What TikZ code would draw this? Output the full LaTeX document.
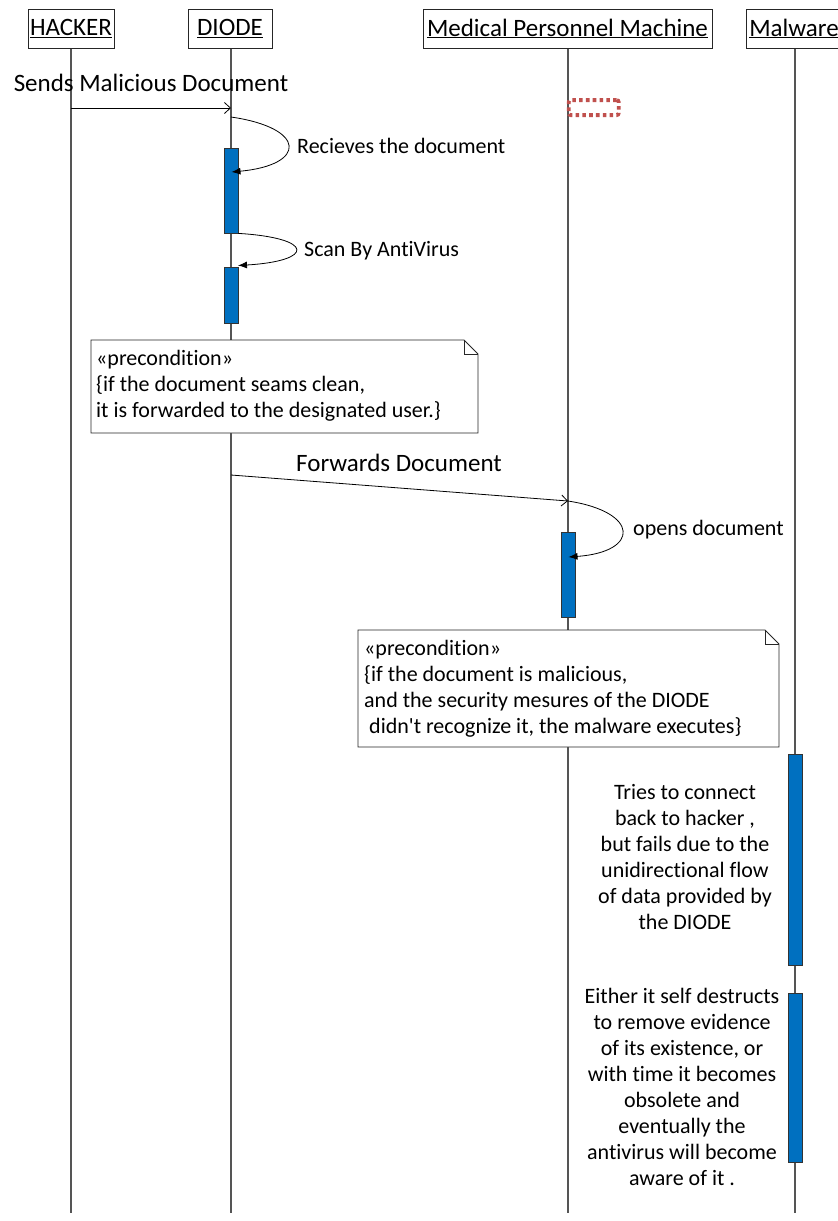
\documentclass[tikz,border=0pt]{standalone}
\usepackage{fontspec}
\setmainfont{Carlito}[Ligatures={NoCommon}]
\usetikzlibrary{arrows.meta}
\definecolor{actblue}{RGB}{0,112,192}
\definecolor{dotred}{RGB}{192,80,77}
\definecolor{lifegray}{RGB}{85,85,85}
\begin{document}
\begin{tikzpicture}[x=1pt,y=-1pt,
  big/.style={font=\fontsize{25}{30}\selectfont},
  small/.style={font=\fontsize{22}{26}\selectfont},
  head/.style={draw=black!85, line width=1pt, fill=white, inner sep=0pt, minimum height=39pt, big},
  life/.style={draw=lifegray, line width=1.2pt},
  bar/.style={draw=black!80, fill=actblue, line width=0.8pt, inner sep=0pt, minimum width=14pt},
  msg/.style={draw=black, line width=0.8pt, -{Straight Barb[length=6pt,width=11pt]}},
  selfmsg/.style={draw=black, line width=0.8pt, -{Latex[length=9pt,width=7pt]}},
  notebox/.style={draw=black!85, line width=0.9pt, fill=white},
  lbl/.style={inner sep=0pt}
]
\useasboundingbox (0,0) rectangle (838,1221);

% headers
\node[head, minimum width=86pt] (hacker) at (71,28.5) {\underline{HACKER}};
\node[head, minimum width=84pt] (diode) at (230,28.5) {\underline{DIODE}};
\node[head, minimum width=289pt] (medical) at (567.5,28.5) {\underline{Medical Personnel Machine}};
\node[head, minimum width=96pt] (malware) at (794,28.5) {\underline{Malware}};

% lifeline ends
\coordinate (hackerEnd) at (71,1213);
\coordinate (diodeEnd) at (231,1213);
\coordinate (medicalEnd) at (568,1213);
\coordinate (malwareEnd) at (795,1213);
\draw[life] (hacker.south -| hackerEnd) -- (hackerEnd);
\draw[life] (diode.south -| diodeEnd) -- (diodeEnd);
\draw[life] (medical.south -| medicalEnd) -- (medicalEnd);
\draw[life] (malware.south -| malwareEnd) -- (malwareEnd);

% red dotted box
\node[draw=dotred, line width=3.8pt, dash pattern=on 3.6pt off 3.2pt, rounded corners=2pt,
  minimum width=50pt, minimum height=15pt, inner sep=0pt] (redbox) at (593.7,107.6) {};

% message 1
\coordinate (m1s) at (71,108);
\coordinate (m1e) at (231,108);
\draw[msg] (m1s) -- (m1e);
\node[lbl, big] (l1) at (151,83) {Sends Malicious Document};

% activation bars on DIODE
\node[bar, minimum height=85pt] (b1) at (231,190.5) {};
\node[bar, minimum height=56pt] (b2) at (231,295) {};

% self message: receives
\coordinate (s1a) at (231,117);
\coordinate (s1b) at (231.5,172);
\draw[selfmsg] (s1a) .. controls (307,128) and (307,165) .. (s1b);
\node[lbl, small, anchor=west] (l2) at (297,146) {Recieves the document};

% self message: scan
\coordinate (s2a) at (b1.south east);
\coordinate (s2b) at (238,265.5);
\draw[selfmsg] (s2a) .. controls (315,238) and (315,261) .. (s2b);
\node[lbl, small, anchor=west] (l3) at (304,251) {Scan By AntiVirus};

% note 1
\draw[notebox] (91,340) -- (464,340) -- (478,354) -- (478,433) -- (91,433) -- cycle;
\draw[line width=0.9pt, draw=black!85] (464,340) -- (464,354) -- (478,354);
\node[lbl, small, anchor=west, align=left] (n1) at (96,386)
  {«precondition»\\{\{}if the document seams clean,\\it is forwarded to the designated user.\}};

% message 2
\coordinate (m2s) at (231,475);
\coordinate (m2e) at (568,501);
\draw[msg] (m2s) -- (m2e);
\node[lbl, big] (l4) at (399,463) {Forwards Document};

% activation bar on Medical
\node[bar, minimum height=85pt] (b3) at (568,574.5) {};

% self message: opens
\coordinate (s3a) at (568,501);
\coordinate (s3b) at (568.5,557);
\draw[selfmsg] (s3a) .. controls (640,512) and (640,552) .. (s3b);
\node[lbl, small, anchor=west] (l5) at (633,530) {opens document};

% note 2
\draw[notebox] (358,630) -- (765,630) -- (779,644) -- (779,747) -- (358,747) -- cycle;
\draw[line width=0.9pt, draw=black!85] (765,630) -- (765,644) -- (779,644);
\node[lbl, small, anchor=west, align=left] (n2) at (364,689)
  {«precondition»\\{\{}if the document is malicious,\\and the security mesures of the DIODE\\\hspace*{5pt}didn\textquotesingle t recognize it, the malware executes\}};

% activation bars on Malware
\node[bar, minimum height=211pt] (b4) at (795,860) {};
\node[bar, minimum height=169pt] (b5) at (795,1077.5) {};

% malware texts
\node[lbl, small, align=center] (t1) at (685,857)
  {Tries to connect\\back to hacker ,\\but fails due to the\\unidirectional flow\\of data provided by\\the DIODE};
\node[lbl, small, align=center] (t2) at (682,1087)
  {Either it self destructs\\to remove evidence\\of its existence, or\\with time it becomes\\obsolete and\\eventually the\\antivirus will become\\aware of it .};
\end{tikzpicture}
\end{document}
